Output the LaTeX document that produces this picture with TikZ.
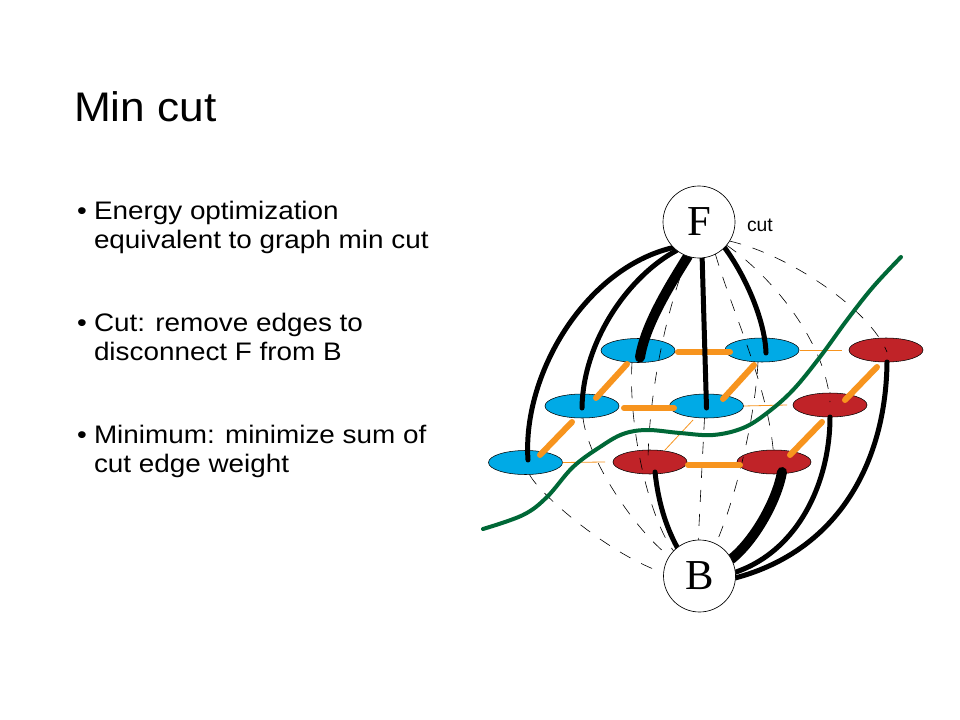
\documentclass[tikz,border=0pt]{standalone}
\usepackage{fontspec}
\setmainfont{Liberation Sans}
\newfontfamily\serifF{Liberation Serif}
\newfontfamily\titlefont[FakeStretch=1.07]{Liberation Sans}
\newfontfamily\bodyfont[FakeStretch=1.1]{Liberation Sans}
\usetikzlibrary{shapes.geometric,calc}
\definecolor{nodeblue}{RGB}{0,170,230}
\definecolor{nodered}{RGB}{192,35,40}
\definecolor{edgeorange}{RGB}{247,148,30}
\definecolor{cutgreen}{RGB}{0,104,55}
\begin{document}
\begin{tikzpicture}[x=0.75pt,y=-0.75pt,
  pix/.style={inner sep=0pt,outer sep=0pt},
  bluenode/.style={ellipse,draw=black,line width=0.4pt,fill=nodeblue,minimum width=55.5pt,minimum height=18pt,inner sep=0pt,outer sep=0pt},
  rednode/.style={bluenode,fill=nodered},
  terminal/.style={circle,draw=black,line width=0.5pt,fill=white,minimum size=54pt,inner sep=0pt,outer sep=0pt,font=\serifF\fontsize{32}{32}\selectfont},
  tlink/.style={line width=3.75pt,black,line cap=round},
  heavylink/.style={line width=7.5pt,black,line cap=round},
  weaklink/.style={line width=0.45pt,black,dash pattern=on 9pt off 9pt},
  nlink/.style={line width=4.5pt,edgeorange,line cap=round},
  thinlink/.style={line width=0.6pt,edgeorange},
  cutline/.style={line width=3pt,cutgreen,line cap=round,line join=round},
  titletext/.style={pix,anchor=base west,font=\titlefont\fontsize{31}{38}\selectfont},
  bodytext/.style={pix,anchor=base west,font=\bodyfont\fontsize{19}{24}\selectfont},
  smalltext/.style={pix,anchor=base west,font=\fontsize{14.5}{16}\selectfont},
]
\useasboundingbox (0,0) rectangle (960,720);
\fill[white] (0,0) rectangle (960,720);

% title and bullets
\node[titletext] (title) at (74,122) {Min cut};
\node[bodytext] (d1) at (77,219.5) {\textbullet};
\node[bodytext] (p1a) at (94,219.5) {Energy optimization};
\node[bodytext] (p1b) at (94,248.5) {equivalent to graph min cut};
\node[bodytext] (d2) at (77,331) {\textbullet};
\node[bodytext] (p2a) at (94,331) {Cut: remove edges to};
\node[bodytext] (p2b) at (94,360.5) {disconnect F from B};
\node[bodytext] (d3) at (77,443) {\textbullet};
\node[bodytext] (p3a) at (94,443) {Minimum: minimize sum of};
\node[bodytext] (p3b) at (94,472.5) {cut edge weight};

% pixel nodes
\node[bluenode] (b1) at (638,350.5) {};
\node[bluenode] (b2) at (762,350) {};
\node[rednode]  (r1) at (886,350) {};
\node[bluenode] (b3) at (582,406) {};
\node[bluenode] (b4) at (706.5,406) {};
\node[rednode]  (r2) at (830,405) {};
\node[bluenode] (b5) at (525.5,462.5) {};
\node[rednode]  (r3) at (650,462) {};
\node[rednode]  (r4) at (774,462) {};

% terminal nodes (positions only; drawn on top later)
\coordinate (Fc) at (699,222);
\coordinate (Bc) at (699.5,576);
\node[terminal,draw=none,fill=none] (F) at (Fc) {\phantom{F}};
\node[terminal,draw=none,fill=none] (B) at (Bc) {\phantom{B}};

% weak (cut) t-links
\draw[weaklink] (F.-32) .. controls (790,255) and (870,310) .. ($(r1)+(1,2)$);
\draw[weaklink] (F.-40) .. controls (770,275) and (825,340) .. ($(r2)+(0,-3)$);
\draw[weaklink] (F.-63) .. controls (735,320) and (770,390) .. ($(r4)+(0,-2)$);
\draw[weaklink] (F.-108) .. controls (670,300) and (650,380) .. ($(r3)+(-2,-4)$);
\draw[weaklink] ($(b5)+(4,12)$) .. controls (540,495) and (610,555) .. (B.175);
\draw[weaklink] ($(b3)+(1,12)$) .. controls (588,460) and (635,530) .. (B.147);
\draw[weaklink] ($(b1)+(-6,12)$) .. controls (628,430) and (650,520) .. (B.136);
\draw[weaklink] ($(b4)+(-2,12)$) -- (B.92);
\draw[weaklink] ($(b2)+(-4,12)$) .. controls (755,420) and (735,500) .. (B.63);

% thin (cut) neighbour links
\draw[thinlink] ($(b2.east)+(1,0)$) -- ($(r1.west)+(-7,0)$);
\draw[thinlink] (b4.east) -- ($(r2.west)+(-6,0)$);
\draw[thinlink] (b5.east) -- ($(r3.west)+(-8,0)$);
\draw[thinlink] ($(b4)+(-13.5,14)$) -- ($(r3)+(15,-12)$);

% strong neighbour links
\draw[nlink] ($(b1)+(40,1.5)$) -- ($(b2)+(-32,2)$);
\draw[nlink] ($(b3)+(42,2)$) -- ($(b4)+(-32.5,2)$);
\draw[nlink] ($(r3)+(38,3)$) -- ($(r4)+(-34,3)$);
\draw[nlink] ($(b1)+(-11,13.5)$) -- ($(b3)+(14,-8)$);
\draw[nlink] ($(b3)+(-10,16)$) -- ($(b5)+(14.5,-7.5)$);
\draw[nlink] ($(b2)+(-8,15)$) -- ($(b4)+(16.5,-7)$);
\draw[nlink] ($(r1)+(-9,17)$) -- ($(r2)+(15,-5)$);
\draw[nlink] ($(r2)+(-8,17)$) -- ($(r4)+(16,-7)$);

% strong t-links to F
\draw[tlink] (F.225) .. controls (585,268) and (522,375) .. ($(b5)+(2.5,-2.5)$);
\draw[tlink] (F.232) .. controls (630,275) and (583,340) .. ($(b3)+(0,2)$);
\draw[heavylink] (F.252) .. controls (670,285) and (645,325) .. ($(b1)+(2,7)$);
\draw[tlink] (F.-85) -- ($(b4)+(0,2)$);
\draw[tlink] (F.-45) .. controls (745,275) and (765,320) .. ($(b2)+(4,3)$);

% strong t-links to B
\draw[tlink] ($(r3)+(5,10)$) .. controls (658,500) and (665,525) .. (B.128);
\draw[heavylink] ($(r4)+(8,10)$) .. controls (777,500) and (755,540) .. (B.28);
\draw[tlink] ($(r2)+(0,12)$) .. controls (830,480) and (800,550) .. (B.6);
\draw[tlink] ($(r1)+(1,12)$) .. controls (886,460) and (840,550) .. (B.-3);

% the cut
\draw[cutline] plot[smooth,tension=0.6] coordinates {(483,529) (523,515) (547,497) (573,467) (600,447) (623,434) (647,430) (680,433) (713,435) (743,428) (767,413) (793,390) (820,357) (847,320) (873,287) (901,257)};

% terminals on top
\node[terminal] (Fdraw) at (Fc) {F};
\node[terminal] (Bdraw) at (Bc) {B};
\node[smalltext] (cutlabel) at (747,231.5) {cut};
\end{tikzpicture}
\end{document}
